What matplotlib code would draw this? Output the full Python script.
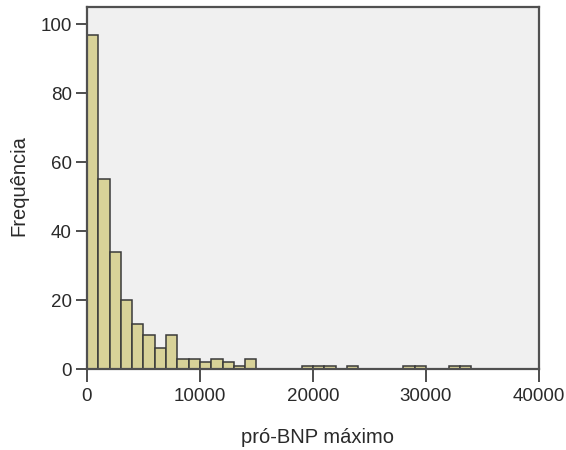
import matplotlib
matplotlib.use("Agg")
import matplotlib.pyplot as plt
import numpy as np

# Histogram of max pro-BNP, bins of 1000 starting at 0
bin_width = 1000
counts = [97, 55, 34, 20, 13, 10, 6, 10, 3, 3,
          2, 3, 2, 1, 3, 0, 0, 0, 0, 1,
          1, 1, 0, 1, 0, 0, 0, 0, 1, 1,
          0, 0, 1, 1]
x_ticks = [0, 10000, 20000, 30000, 40000]
y_ticks = [0, 20, 40, 60, 80, 100]

plt.rcParams['font.family'] = ['Liberation Sans', 'DejaVu Sans']

fig = plt.figure(figsize=(5.66, 4.5), dpi=100)
ax = fig.add_axes([0.1537, 0.18, 0.7986, 0.804])
ax.set_facecolor('#f0f0f0')

counts = np.array(counts)
left = np.arange(len(counts)) * bin_width
keep = counts > 0
ax.bar(left[keep], counts[keep], width=bin_width, align='edge',
       color='#d8d298', edgecolor='#3a3a3a', linewidth=1.1, zorder=2)

ax.set_xlim(0, 40000)
ax.set_ylim(0, 105)
ax.set_xticks(x_ticks)
ax.set_yticks(y_ticks)
ax.set_xticklabels([str(t) for t in x_ticks])
ax.set_yticklabels([str(t) for t in y_ticks])

for s in ax.spines.values():
    s.set_color('#505050')
    s.set_linewidth(1.6)

ax.tick_params(axis='both', direction='out', width=1.3,
               color='#404040', labelsize=13.5, labelcolor='#2a2a2a')
ax.tick_params(axis='x', length=9.5, pad=4)
ax.tick_params(axis='y', length=8, pad=3)

xl = ax.set_xlabel('pró-BNP máximo', fontsize=14.5, color='#2a2a2a')
yl = ax.set_ylabel('Frequência', fontsize=14.5, color='#2a2a2a')
xl.set_va('center')
yl.set_va('center')
yl.set_ha('center')
ax.xaxis.set_label_coords(0.51, -0.188)
ax.yaxis.set_label_coords(-0.150, 0.508)

fig.savefig('out.png', dpi=100)
